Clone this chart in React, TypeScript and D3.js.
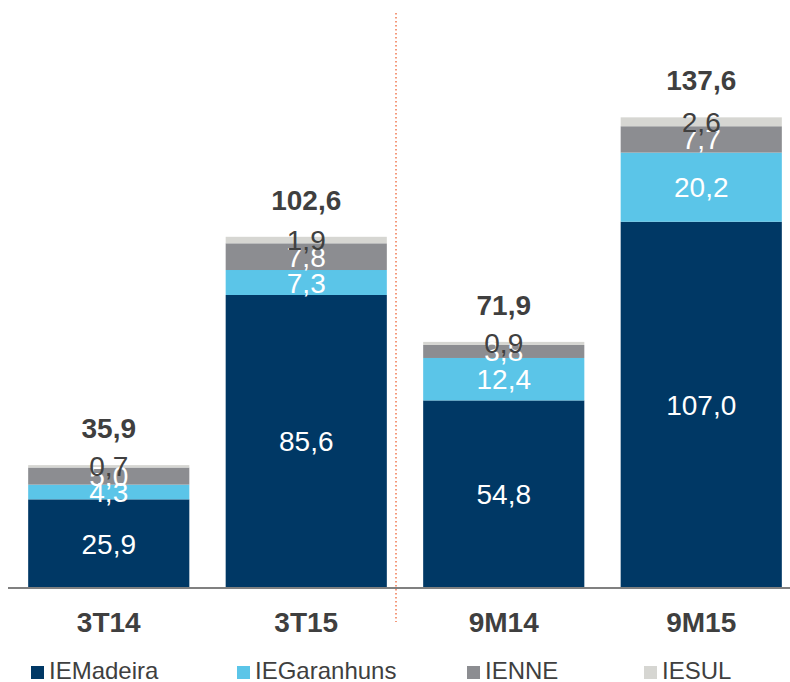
import React from "react";
import * as d3 from "d3";

const categories = ["3T14", "3T15", "9M14", "9M15"];
const seriesNames = ["IEMadeira", "IEGaranhuns", "IENNE", "IESUL"];
const ieMadeira = [25.9, 85.6, 54.8, 107.0];
const ieGaranhuns = [4.3, 7.3, 12.4, 20.2];
const ienne = [5.0, 7.8, 3.8, 7.7];
const iesul = [0.7, 1.9, 0.9, 2.6];
const totals = [35.9, 102.6, 71.9, 137.6];
const colors = ["#003865", "#5BC5E8", "#8C8D91", "#D6D6D2"];
const labelColors = ["#ffffff", "#ffffff", "#ffffff", "#404040"];

const W = 790;
const H = 682;
const baseY = 588;
const fmt = (v: number) => v.toFixed(1).replace(".", ",");

export default function App() {
  const values = [ieMadeira, ieGaranhuns, ienne, iesul];
  const x = d3.scaleBand().domain(categories).range([10, 800]).paddingInner(0.184).paddingOuter(0.092);
  const y = d3.scaleLinear().domain([0, 137.6]).range([baseY, 117]);
  const rows = categories.map((c, i) => {
    const r: any = { cat: c };
    seriesNames.forEach((s, k) => (r[s] = values[k][i]));
    return r;
  });
  const stacked = d3.stack().keys(seriesNames)(rows);
  const font = "'Liberation Sans', Arial, sans-serif";
  const legendX = [31, 237, 467, 644];
  return (
    <svg width={W} height={H} style={{ position: "absolute", left: 0, top: 0 }} fontFamily={font}>
      <rect width={W} height={H} fill="#fff" />
      {stacked.map((layer, k) =>
        layer.map((d, i) => (
          <rect key={`r${k}-${i}`} x={x(categories[i])} width={x.bandwidth()} y={y(d[1])} height={y(d[0]) - y(d[1])} fill={colors[k]} />
        ))
      )}
      <line x1={8} x2={790} y1={baseY} y2={baseY} stroke="#808080" strokeWidth={2} />
      <line x1={396} x2={396} y1={13} y2={622} stroke="#F07850" strokeWidth={1.5} strokeDasharray="1.5,2.5" />
      {stacked.map((layer, k) =>
        layer.map((d, i) => (
          <text key={`t${k}-${i}`} x={(x(categories[i]) as number) + x.bandwidth() / 2} y={(y(d[0]) + y(d[1])) / 2 + 10} textAnchor="middle" fontSize={28} fill={labelColors[k]}>
            {fmt(values[k][i])}
          </text>
        ))
      )}
      {totals.map((t, i) => (
        <text key={`tot${i}`} x={(x(categories[i]) as number) + x.bandwidth() / 2} y={y(t) - 27} textAnchor="middle" fontSize={28} fontWeight="bold" fill="#3f3f3f">
          {fmt(t)}
        </text>
      ))}
      {categories.map((c, i) => (
        <text key={`c${i}`} x={(x(c) as number) + x.bandwidth() / 2} y={632} textAnchor="middle" fontSize={28} fontWeight="bold" fill="#3f3f3f">
          {c}
        </text>
      ))}
      {seriesNames.map((s, k) => (
        <g key={`l${k}`}>
          <rect x={legendX[k]} y={666} width={13} height={13} fill={colors[k]} />
          <text x={legendX[k] + 18} y={679} fontSize={24} fill="#3f3f3f">{s}</text>
        </g>
      ))}
    </svg>
  );
}
